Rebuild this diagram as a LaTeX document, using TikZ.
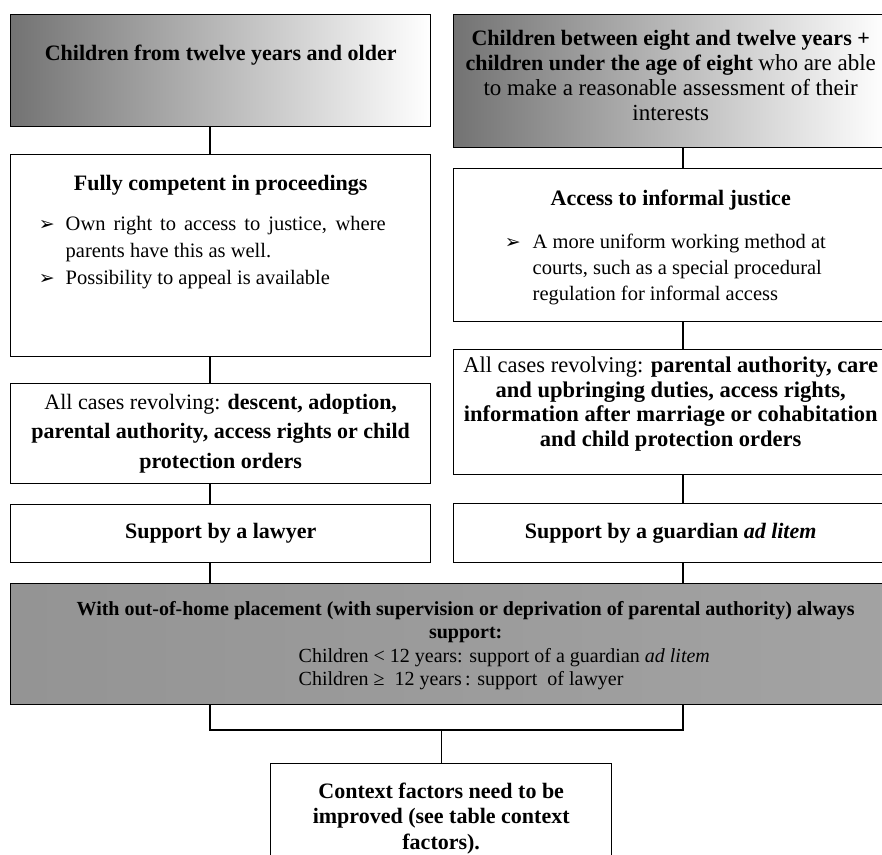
\documentclass[tikz,border=0pt]{standalone}
\usepackage{fontspec}
\setmainfont{Liberation Serif}
\newfontfamily\arrowfont{DejaVu Sans}
\usepackage{tikz}
\usepackage{xcolor}
\tikzset{
    flow-box/.style = {draw=black, line width=1.4pt, rectangle, inner sep=0pt, anchor=north west, font=\fontsize{22}{24.7}\selectfont},
    fade-box/.style = {flow-box, left color=black!55, right color=white},
    dark-box/.style = {flow-box, left color=black!42, middle color=black!68, right color=black!36},
    link/.style = {draw=black, line width=1.4pt},
}

\begin{document}
\begin{tikzpicture}[x=1pt, y=-1pt]
\clip (0,0) rectangle (882,854);
\coordinate (left-spine) at (210,0);
\coordinate (right-spine) at (683,0);
\coordinate (join) at (440,730);

% top row
\node [fade-box] (old) at (10,14) {\begin{minipage}[c][112pt][t]{420pt}
    \vspace*{30pt}\centering\bfseries Children from twelve years and older
\end{minipage}};
\node [fade-box] (young) at (453,14) {\begin{minipage}[c][133pt][t]{434pt}
    \vspace*{16pt}\centering
    \textbf{Children between eight and twelve years +\\ children under the age of eight} {\fontsize{23}{24.7}\selectfont who are able\\ to make a reasonable assessment of their\\ interests}
\end{minipage}};

% competence
\node [flow-box] (competent) at (10,154) {\begin{minipage}[c][202pt][t]{420pt}
    \vspace*{21pt}{\centering\bfseries Fully competent in proceedings\par}
    \vspace{13pt}
    {\fontsize{20.5}{27}\selectfont\leftskip=55pt \rightskip=45pt
    \noindent\llap{\arrowfont\fontsize{19}{19}\selectfont ➢\hspace{11pt}}Own right to access to justice, where\linebreak parents have this as well.\par
    \noindent\llap{\arrowfont\fontsize{19}{19}\selectfont ➢\hspace{11pt}}Possibility to appeal is available\par}
\end{minipage}};
\node [flow-box] (informal) at (453,168) {\begin{minipage}[c][153pt][t]{434pt}
    \vspace*{21pt}{\centering\bfseries Access to informal justice\par}
    \vspace{17pt}
    {\fontsize{20.5}{26}\selectfont\leftskip=79pt
    \noindent\llap{\arrowfont\fontsize{19}{19}\selectfont ➢\hspace{12pt}}A more uniform working method at\\ courts, such as a special procedural\\ regulation for informal access\par}
\end{minipage}};

% cases
\node [flow-box] (cases-old) at (10,383) {\begin{minipage}[c][100pt][c]{420pt}
    \fontsize{22}{29.5}\selectfont\centering
    All cases revolving: \textbf{descent, adoption,\\ parental authority, access rights or child\\ protection orders}
\end{minipage}};
\node [flow-box] (cases-young) at (453,349) {\begin{minipage}[c][125pt][t]{434pt}
    \fontsize{22.5}{24.7}\selectfont
    \vspace*{7pt}\centering
    All cases revolving: \textbf{parental authority, care\\ and upbringing duties, access rights,\\ information after marriage or cohabitation\\ and child protection orders}
\end{minipage}};

% support
\node [flow-box] (lawyer) at (10,504) {\begin{minipage}[c][58pt][c]{420pt}
    \centering\bfseries Support by a lawyer
\end{minipage}};
\node [flow-box] (guardian) at (453,503) {\begin{minipage}[c][59pt][c]{434pt}
    \centering\textbf{Support by a guardian \textit{ad litem}}
\end{minipage}};

% placement and context
\node [dark-box] (placement) at (10,583) {\begin{minipage}[c][121pt][c]{910pt}
    \fontsize{20}{23.3}\selectfont\vspace*{3pt}
    {\centering\bfseries With out-of-home placement (with supervision or deprivation of parental authority) always\\ support:\par}
    {\leftskip=288pt \noindent Children < 12 years: support of a guardian \textit{ad litem}\\ Children ≥\ \ 12 years\,: support\ \ of lawyer\par}
\end{minipage}};
\node [flow-box] (context) at (270,763) {\begin{minipage}[c][120pt][t]{341pt}
    \fontsize{22}{25.5}\selectfont
    \vspace*{19pt}\centering\bfseries Context factors need to be\\ improved (see table context\\ factors).
\end{minipage}};

% connectors
\foreach \a/\b in {old/competent, competent/cases-old, cases-old/lawyer, lawyer/placement}
    \draw [link] (\a.south -| left-spine) -- (\b.north -| left-spine);
\foreach \a/\b in {young/informal, informal/cases-young, cases-young/guardian, guardian/placement}
    \draw [link] (\a.south -| right-spine) -- (\b.north -| right-spine);
\draw [link] (placement.south -| left-spine) |- (join) -| (placement.south -| right-spine);
\draw [link] (context.north) -- (context.north |- join);
\end{tikzpicture}
\end{document}
